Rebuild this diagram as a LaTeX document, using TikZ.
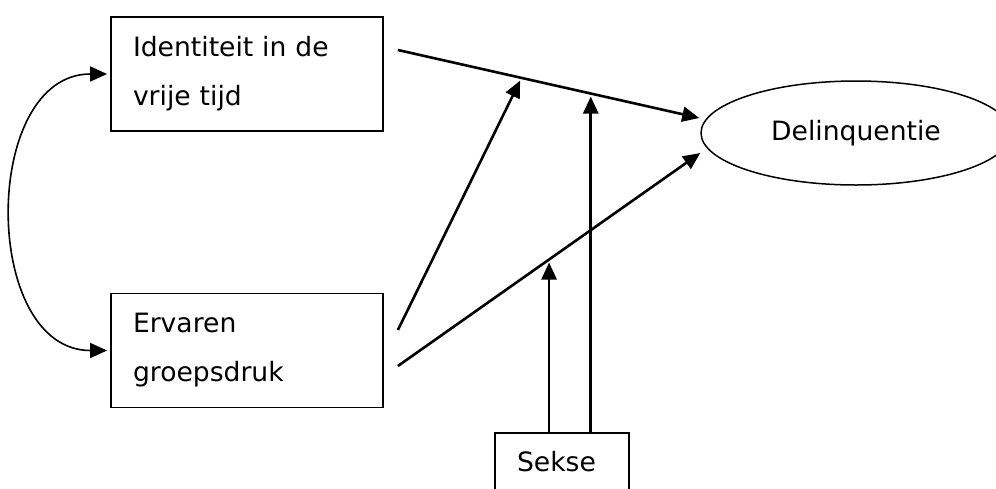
\documentclass[tikz,border=0pt]{standalone}
\usepackage{fontspec}
\setmainfont{DejaVu Sans}
\usepackage{tikz}
\usetikzlibrary{calc,arrows.meta,shapes.geometric}

\tikzset{
  box/.style={draw, line width=0.9pt, minimum width=136pt, minimum height=57pt,
    text width=114pt, inner xsep=11pt, inner ysep=0pt, align=left,
    font=\fontsize{13.3}{24.5}\selectfont},
  oval/.style={draw, ellipse, line width=0.75pt, minimum width=155pt,
    minimum height=52pt, inner sep=0pt, font=\fontsize{13.3}{16}\selectfont},
  arr/.style={-{Triangle[length=8.5pt,width=7.5pt]}, line width=1.3pt},
  link/.style={{Triangle[length=8.5pt,width=7.5pt]}-{Triangle[length=8.5pt,width=7.5pt]},
    line width=0.8pt, shorten <=1.5pt, shorten >=1.5pt}
}

\begin{document}
\begin{tikzpicture}[x=0.5pt, y=-0.5pt]
  \useasboundingbox (0,0) rectangle (996,488);

  \node[box] (id) at (247,74) {Identiteit in de\\vrije tijd};
  \node[box] (gp) at (247,350.5) {Ervaren\\groepsdruk};
  \node[oval] (del) at (856,133) {Delinquentie};
  \node[box, minimum width=67pt, text width=45pt, minimum height=29pt] (sex) at (562,462) {Sekse};

  \coordinate (idout) at ([shift={(14,-24)}]id.east);
  \coordinate (gpup) at ([shift={(14,-20.5)}]gp.east);
  \coordinate (gpout) at ([shift={(14,15.5)}]gp.east);
  \coordinate (delin1) at ([shift={(-1,-15)}]del.west);
  \coordinate (delin2) at ([shift={(0,20)}]del.west);

  \draw[arr] (idout) -- (delin1);
  \draw[arr] (gpout) -- (delin2);

  \coordinate (m1) at ($(idout)!0.41!(delin1)$);
  \coordinate (m2) at ($(idout)!0.64!(delin1)$);
  \coordinate (m3) at ($(gpout)!0.5!(delin2)$);

  \draw[arr, shorten >=1.5pt] (gpup) -- (m1);
  \draw[arr, shorten >=1.5pt] (m2 |- sex.north) -- (m2);
  \draw[arr, shorten >=1.5pt] (m3 |- sex.north) -- (m3);

  \draw[link] (id.west) to[out=180, in=180, looseness=1.2] (gp.west);
\end{tikzpicture}
\end{document}
